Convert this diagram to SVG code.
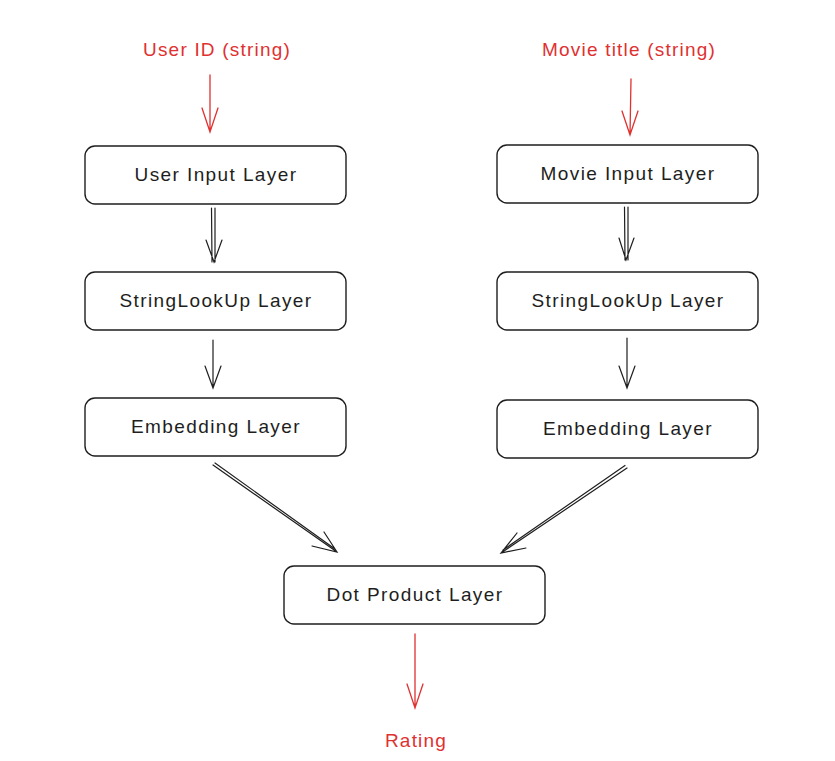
<svg xmlns="http://www.w3.org/2000/svg" width="835" height="761" viewBox="0 0 835 761">
<defs>
<style>
.box{fill:#ffffff;stroke:#1e1e1e;stroke-width:1.4}
.t{font-family:"Liberation Sans",Arial,sans-serif;font-size:19px;fill:#1e1e1e;text-anchor:middle;letter-spacing:1.4px}
.r{font-family:"Liberation Sans",Arial,sans-serif;font-size:19px;fill:#e03131;text-anchor:middle;letter-spacing:1.2px}
.ck{stroke:#1e1e1e;stroke-width:1.2;fill:none;stroke-linecap:round}
.cr{stroke:#e03131;stroke-width:1.3;fill:none;stroke-linecap:round}
</style>
</defs>
<rect width="835" height="761" fill="#ffffff"/>
<g id="labels-top">
<text class="r" x="217" y="56">User ID (string)</text>
<text class="r" x="629" y="56">Movie title (string)</text>
</g>
<g id="user-input"><rect class="box" x="85" y="146" width="261" height="58" rx="10"/><text class="t" x="216" y="181">User Input Layer</text></g>
<g id="movie-input"><rect class="box" x="497" y="145" width="261" height="58" rx="10"/><text class="t" x="628" y="180">Movie Input Layer</text></g>
<g id="user-lookup"><rect class="box" x="85" y="272" width="261" height="58" rx="10"/><text class="t" x="216" y="307">StringLookUp Layer</text></g>
<g id="movie-lookup"><rect class="box" x="497" y="272" width="261" height="58" rx="10"/><text class="t" x="628" y="307">StringLookUp Layer</text></g>
<g id="user-embed"><rect class="box" x="85" y="398" width="261" height="58" rx="10"/><text class="t" x="216" y="433">Embedding Layer</text></g>
<g id="movie-embed"><rect class="box" x="497" y="400" width="261" height="58" rx="10"/><text class="t" x="628" y="435">Embedding Layer</text></g>
<g id="dot"><rect class="box" x="284" y="566" width="261" height="58" rx="10"/><text class="t" x="415" y="601">Dot Product Layer</text></g>
<g id="rating"><text class="r" x="416" y="747">Rating</text></g>
<g id="connectors">
<path class="cr" d="M210 75 L210 132 M202 108 L210 132 L218 108"/>
<path class="cr" d="M631 79 L630 135 M622 111 L630 135 L638 111"/>
<path class="ck" d="M215 208 L215 262 M211.5 208 L212 262 M206 240 L214 262 L222 240"/>
<path class="ck" d="M628 207 L628 260 M624.5 207 L625 260 M619 238 L626 260 L634 238"/>
<path class="ck" d="M213 340 L213 388 M205 366 L213 388 L221 366"/>
<path class="ck" d="M627 338 L627 388 M619 366 L627 388 L635 366"/>
<path class="ck" d="M213 465 L337 552 M215 463 L335 549 M312 546 L337 552 L324 532"/>
<path class="ck" d="M627 468 L501 553 M625 465.5 L503 550 M517 533 L501 553 L526 548"/>
<path class="cr" d="M415 634 L415 708 M407 684 L415 708 L423 684"/>
</g>
</svg>
